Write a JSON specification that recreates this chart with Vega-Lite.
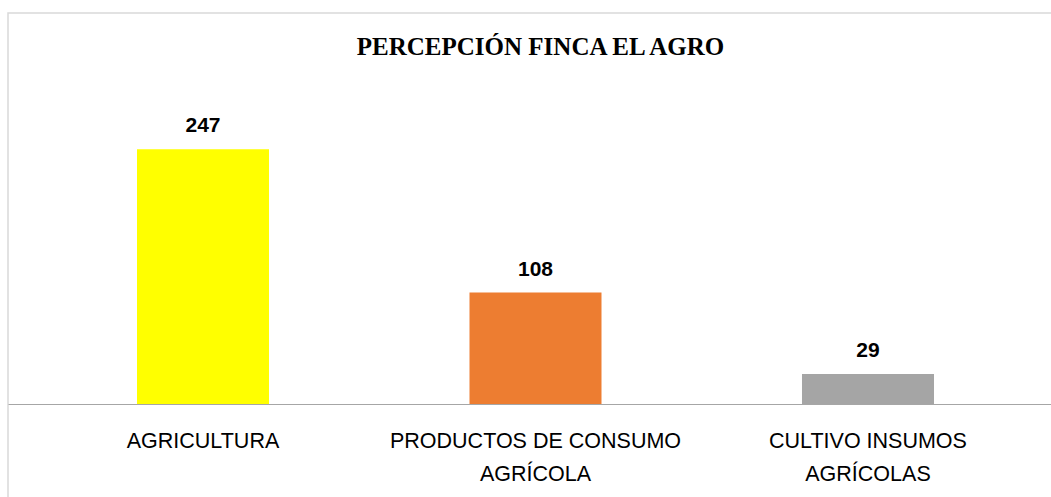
{
  "$schema": "https://vega.github.io/schema/vega-lite/v6.json",
  "width": 1055,
  "height": 490,
  "autosize": {"type": "none"},
  "padding": {"left": 8, "top": 13, "right": 0, "bottom": 0},
  "background": "white",
  "config": {"view": {"stroke": "#D9D9D9", "strokeWidth": 1.5}},
  "title": {
    "text": "PERCEPCIÓN FINCA EL AGRO",
    "font": "Liberation Serif",
    "fontSize": 25,
    "fontWeight": "bold",
    "color": "#000000",
    "anchor": "middle",
    "offset": -39,
    "baseline": "alphabetic",
    "dx": 5,
    "dy": 28
  },
  "data": {
    "values": [
      {"categoria": "AGRICULTURA", "cantidad": 247},
      {"categoria": "PRODUCTOS DE CONSUMO AGRÍCOLA", "cantidad": 108},
      {"categoria": "CULTIVO INSUMOS AGRÍCOLAS", "cantidad": 29}
    ]
  },
  "encoding": {
    "x": {
      "field": "categoria",
      "type": "nominal",
      "sort": null,
      "scale": {"paddingInner": 0.603, "paddingOuter": 0.388},
      "axis": {
        "title": null,
        "orient": "bottom",
        "offset": -99,
        "domain": true,
        "domainColor": "#A6A6A6",
        "domainWidth": 1.2,
        "ticks": false,
        "tickSize": 0,
        "labelAngle": 0,
        "labelFont": "Liberation Sans",
        "labelFontSize": 21.5,
        "labelColor": "#000000",
        "labelPadding": 26,
        "labelLineHeight": 33,
        "labelLimit": 0,
        "labelExpr": "datum.label == 'PRODUCTOS DE CONSUMO AGRÍCOLA' ? ['PRODUCTOS DE CONSUMO', 'AGRÍCOLA'] : datum.label == 'CULTIVO INSUMOS AGRÍCOLAS' ? ['CULTIVO INSUMOS', 'AGRÍCOLAS'] : datum.label"
      }
    },
    "y": {
      "field": "cantidad",
      "type": "quantitative",
      "scale": {"domain": [-96, 379], "nice": false, "zero": false},
      "axis": null
    }
  },
  "layer": [
    {
      "mark": {"type": "bar"},
      "encoding": {
        "y2": {"datum": 0},
        "color": {
          "field": "categoria",
          "type": "nominal",
          "sort": null,
          "scale": {
            "domain": ["AGRICULTURA", "PRODUCTOS DE CONSUMO AGRÍCOLA", "CULTIVO INSUMOS AGRÍCOLAS"],
            "range": ["#FFFF00", "#ED7D31", "#A5A5A5"]
          },
          "legend": null
        }
      }
    },
    {
      "mark": {
        "type": "text",
        "dy": -17,
        "baseline": "alphabetic",
        "font": "Liberation Sans",
        "fontSize": 21,
        "fontWeight": "bold",
        "color": "#000000"
      },
      "encoding": {"text": {"field": "cantidad", "type": "quantitative"}}
    }
  ]
}
